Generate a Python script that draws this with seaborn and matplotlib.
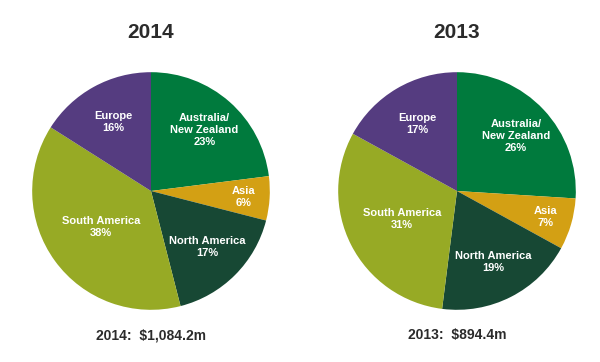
import numpy as np
import matplotlib
matplotlib.use("Agg")
import matplotlib.pyplot as plt
import seaborn as sns

sns.set_theme(style="white")
plt.rcParams['font.family'] = ['Liberation Sans', 'DejaVu Sans']

categories = ["Australia/\nNew Zealand", "Asia", "North America", "South America", "Europe"]
share_2014 = [23, 6, 17, 38, 16]
share_2013 = [26, 7, 19, 31, 17]
totals = ["2014:  $1,084.2m", "2013:  $894.4m"]
years = ["2014", "2013"]
colors = ["#007a3d", "#d3a014", "#174834", "#97aa25", "#553c80"]
label_r = [0.68, 0.78, 0.67, 0.52, 0.66]

fig = plt.figure(figsize=(6, 3.62), dpi=100)
W, H = 600, 362
centers = [(151, 191), (457, 191)]
R = 120

for (cx, cy), vals, yr, tot in zip(centers, [share_2014, share_2013], years, totals):
    ax = fig.add_axes([(cx - R) / W, (H - cy - R) / H, 2 * R / W, 2 * R / H])
    wedges, _ = ax.pie(vals, colors=colors, startangle=90, counterclock=False,
                       radius=1, wedgeprops=dict(linewidth=0))
    ax.set_xlim(-1.01, 1.01)
    ax.set_ylim(-1.01, 1.01)
    ax.axis("off")
    for w, cat, v, lr in zip(wedges, categories, vals, label_r):
        ang = np.deg2rad((w.theta1 + w.theta2) / 2)
        ax.text(lr * np.cos(ang), lr * np.sin(ang), f"{cat}\n{v}%",
                ha="center", va="center", color="white", fontsize=8,
                fontweight="bold", linespacing=1.25)
    fig.text(cx / W, 1 - 33 / H, yr, ha="center", va="center",
             fontsize=15, fontweight="bold", color="#2b2b2b")
    fig.text(cx / W, 1 - 335 / H, tot, ha="center", va="center",
             fontsize=10, fontweight="bold", color="#2b2b2b")

fig.savefig("out.png", dpi=100)
